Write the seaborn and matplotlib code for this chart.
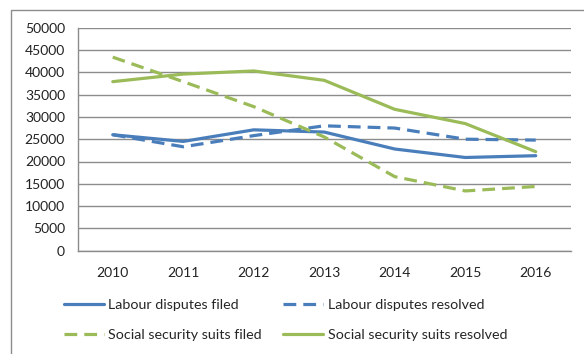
import matplotlib
matplotlib.use("Agg")
import matplotlib.pyplot as plt
from matplotlib.patches import Rectangle
import numpy as np
import pandas as pd
import seaborn as sns

years = ["2010", "2011", "2012", "2013", "2014", "2015", "2016"]
labour_filed = [26000, 24500, 27100, 26600, 22800, 20900, 21300]
labour_resolved = [26000, 23300, 25800, 28000, 27500, 25000, 24800]
social_filed = [43400, 37900, 32300, 25500, 16600, 13400, 14400]
social_resolved = [37900, 39600, 40300, 38200, 31700, 28500, 22200]

series_names = [
    "Labour disputes filed",
    "Labour disputes resolved",
    "Social security suits filed",
    "Social security suits resolved",
]
series_values = [labour_filed, labour_resolved, social_filed, social_resolved]

BLUE = "#4A7EBB"
GREEN = "#9BBB59"
colors = {series_names[0]: BLUE, series_names[1]: BLUE,
          series_names[2]: GREEN, series_names[3]: GREEN}
dash_styles = {series_names[0]: "", series_names[1]: (4, 2.2),
               series_names[2]: (4, 2.2), series_names[3]: ""}

rows = []
for name, vals in zip(series_names, series_values):
    for i, (yr, v) in enumerate(zip(years, vals)):
        rows.append({"pos": i, "year": yr, "value": v, "series": name})
df = pd.DataFrame(rows)

sns.set_theme(style="white")
plt.rcParams["font.family"] = ["Lato", "DejaVu Sans"]

W, H = 584, 354
fig = plt.figure(figsize=(W / 100, H / 100), dpi=100)
fig.patch.set_facecolor("white")

# outer chart frame
fig.patches.append(Rectangle((11 / W, -0.1), 1.2, 1 - 10 / H + 0.1,
                             transform=fig.transFigure, fill=False,
                             edgecolor="#8c8c8c", linewidth=1.0))

left, right = 77.5 / W, 571 / W
bottom, top = (H - 250.7) / H, (H - 27.7) / H
ax = fig.add_axes([left, bottom, right - left, top - bottom])

sns.lineplot(data=df, x="pos", y="value", hue="series", style="series",
             palette=colors, dashes=dash_styles, linewidth=2.3,
             hue_order=series_names, style_order=series_names,
             legend=False, ax=ax)

ax.set_xlim(-0.5, len(years) - 0.5)
ax.set_ylim(0, 50000)
ax.set_yticks(np.arange(0, 50001, 5000))
ax.set_yticklabels([str(v) for v in range(0, 50001, 5000)])
ax.set_xticks(np.arange(len(years)))
ax.set_xticklabels(years)
ax.set_xticks(np.arange(-0.5, len(years), 1.0), minor=True)
ax.tick_params(axis="x", which="major", length=0, pad=12, labelsize=10, colors="#222222")
ax.tick_params(axis="x", which="minor", length=5, width=1, color="#8c8c8c", direction="out")
ax.tick_params(axis="y", which="major", length=5, width=1, color="#8c8c8c",
               direction="out", pad=4, labelsize=10, labelcolor="#222222")
ax.set_xlabel("")
ax.set_ylabel("")
ax.grid(axis="y", color="#8c8c8c", linewidth=1.0)
ax.set_axisbelow(True)
for s in ["top", "right"]:
    ax.spines[s].set_visible(False)
for s in ["left", "bottom"]:
    ax.spines[s].set_color("#8c8c8c")
    ax.spines[s].set_linewidth(1.0)

handles = {}
for name in series_names:
    h, = ax.plot([], [], color=colors[name], linewidth=2.3,
                 linestyle=(0, dash_styles[name]) if dash_styles[name] else "-")
    handles[name] = h
# legend fills column by column; order so rows read filed/resolved pairs
legend_order = [series_names[0], series_names[2], series_names[1], series_names[3]]
fig.legend([handles[n] for n in legend_order], legend_order, loc="lower left", ncol=2,
           bbox_to_anchor=(58 / W, 7 / H), frameon=False, fontsize=10.3,
           handlelength=2.8, handletextpad=0.3, columnspacing=1.5,
           labelspacing=1.25, borderaxespad=0)

fig.savefig("out.png", dpi=100)
